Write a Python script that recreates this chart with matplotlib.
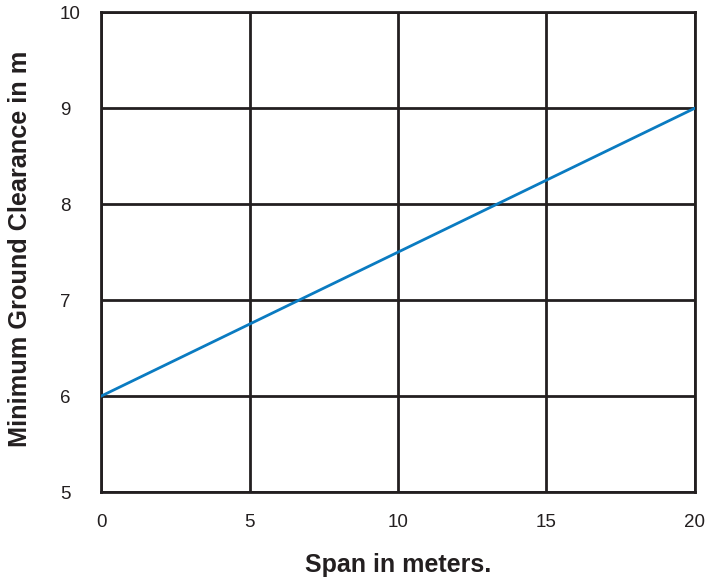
import matplotlib
matplotlib.use("Agg")
import matplotlib.pyplot as plt
import numpy as np

# -----------------------------
# DATA
# -----------------------------
span_m = [0, 20]
clearance_m = [6, 9]
x_ticks = [0, 5, 10, 15, 20]
y_ticks = [5, 6, 7, 8, 9, 10]

GRID_COLOR = "#231f20"
LINE_COLOR = "#0a7bc1"

plt.rcParams["font.family"] = ["Liberation Sans", "DejaVu Sans"]

fig = plt.figure(figsize=(7.07, 5.79), dpi=100)
ax = fig.add_axes([0.1429, 0.150, 0.840, 0.829])

ax.plot(span_m, clearance_m, color=LINE_COLOR, linewidth=2, zorder=3)

ax.set_xlim(0, 20)
ax.set_ylim(5, 10)
ax.set_xticks(x_ticks)
ax.set_yticks(y_ticks)
ax.tick_params(length=0, labelsize=13.5, colors="#231f20")
ax.tick_params(axis="x", pad=16)
# y tick labels are left-aligned in the reference
ax.tick_params(axis="y", pad=29.5)
for lbl in ax.get_yticklabels():
    lbl.set_horizontalalignment("left")
ax.grid(True, color=GRID_COLOR, linewidth=2)
for s in ax.spines.values():
    s.set_color(GRID_COLOR)
    s.set_linewidth(2)

fig.text(398 / 707, 1 - 565 / 579, "Span in meters.", fontsize=18, fontweight="bold",
         color="#231f20", ha="center", va="center")
fig.text(20 / 707, 1 - 249 / 579, "Minimum Ground Clearance in m", fontsize=18.2,
         fontweight="bold", color="#231f20", ha="center", va="center", rotation=90)

fig.savefig("out.png", dpi=100)
